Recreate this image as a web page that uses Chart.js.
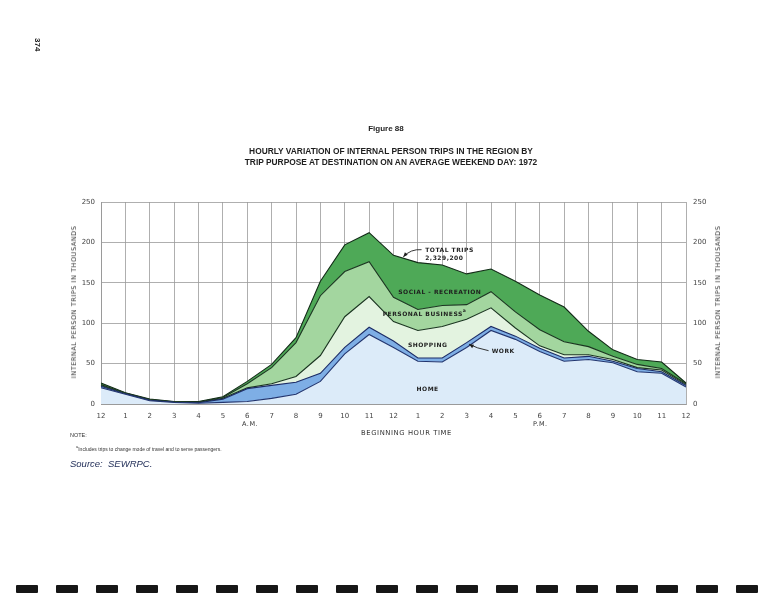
<!DOCTYPE html>
<html>
<head>
<meta charset="utf-8">
<script src="https://cdn.jsdelivr.net/npm/chart.js@4.4.1/dist/chart.umd.min.js"></script>
<style>
  body { margin: 0; width: 772px; height: 600px; background: #fff; position: relative; overflow: hidden; font-family: "Liberation Sans", Arial, sans-serif; }
  #chart { position: absolute; left: 0; top: 0; }
  .t { position: absolute; white-space: nowrap; color: #1e1e1e; }
  .fig { left: 0; width: 772px; top: 124px; text-align: center; font-size: 8px; font-weight: bold; }
  .title { left: 0; width: 782px; top: 146px; text-align: center; font-size: 8.4px; font-weight: bold; line-height: 11px; }
  .axis-y { font-family: "DejaVu Sans", sans-serif; font-size: 6.5px; letter-spacing: 0.55px; color: #333; transform-origin: center; transform: translate(-50%, -50%) rotate(-90deg); }
  .small { font-family: "DejaVu Sans", sans-serif; font-size: 6.5px; letter-spacing: 0.5px; color: #333; }
  .page { font-size: 8px; font-weight: bold; transform: rotate(90deg); transform-origin: left top; }
  .dash { position: absolute; top: 585px; width: 22px; height: 8px; background: #161616; border-radius: 1px; }
</style>
</head>
<body>
<canvas id="chart" width="772" height="600"></canvas>

<div class="t page" style="left:42px;top:38px;">374</div>
<div class="t fig">Figure 88</div>
<div class="t title">HOURLY VARIATION OF INTERNAL PERSON TRIPS IN THE REGION BY<br>TRIP PURPOSE AT DESTINATION ON AN AVERAGE WEEKEND DAY: 1972</div>

<div class="t axis-y" style="left:74px;top:302px;">INTERNAL PERSON TRIPS IN THOUSANDS</div>
<div class="t axis-y" style="left:718px;top:302px;">INTERNAL PERSON TRIPS IN THOUSANDS</div>

<div class="t small" style="left:242px;top:420px;">A.M.</div>
<div class="t small" style="left:533px;top:420px;">P.M.</div>
<div class="t small" style="left:361px;top:429px;font-size:6.8px;letter-spacing:0.6px;">BEGINNING HOUR TIME</div>
<div class="t" style="left:70px;top:432px;font-size:5.5px;color:#333;">NOTE:</div>
<div class="t" style="left:76px;top:444px;font-size:5px;color:#333;"><sup style="font-size:4px">a</sup>Includes trips to change mode of travel and to serve passengers.</div>
<div class="t" style="left:70px;top:458px;font-size:9.5px;font-style:italic;color:#1d2a55;">Source:&nbsp; SEWRPC.</div>

<script>
// hours 12 A.M. through 12 midnight, values in thousands of trips
const HOURS = ["12", "1", "2", "3", "4", "5", "6", "7", "8", "9", "10", "11",
               "12", "1", "2", "3", "4", "5", "6", "7", "8", "9", "10", "11", "12"];

const HOME     = [20, 12, 4, 2, 1, 2, 3, 7, 12, 28, 62, 86, 70, 53, 52, 70, 91, 80, 65, 53, 55, 51, 40, 38, 21];
const WORK     = [2, 0.5, 0.5, 0.2, 0.5, 4, 16, 16, 15, 10, 8, 9, 8, 4, 5, 6, 5, 4, 4, 4, 4, 2, 4, 2, 2];
const SHOPPING = [1, 0.5, 0.5, 0.2, 0.5, 1, 1, 2, 7, 22, 38, 38, 24, 34, 39, 29, 23, 10, 3, 4, 2, 2, 1, 2, 1];
const PERSONAL = [1, 0.5, 0.5, 0.3, 0.5, 1, 5, 20, 42, 74, 56, 43, 30, 26, 26, 18, 20, 20, 20, 16, 10, 4, 4, 2, 1];
const SOCIAL   = [2, 0.5, 0.5, 0.3, 0.5, 1, 3, 4, 6, 18, 33, 36, 52, 58, 50, 38, 28, 38, 43, 43, 19, 8, 6, 8, 1];

const Y_TICKS = [0, 50, 100, 150, 200, 250];

// text placed inside the plot, positioned in data units (hour, thousands)
const LABELS = [
  { text: "TOTAL TRIPS", x: 13.3, y: 190, align: "left" },
  { text: "2,329,200", x: 13.3, y: 180, align: "left" },
  { text: "SOCIAL - RECREATION", x: 13.9, y: 138, align: "center" },
  { text: "PERSONAL BUSINESS", x: 13.2, y: 111, align: "center", sup: "a" },
  { text: "SHOPPING", x: 13.4, y: 73, align: "center" },
  { text: "WORK", x: 16.5, y: 65, align: "center" },
  { text: "HOME", x: 13.4, y: 18, align: "center" },
];

const tickFont = { family: "DejaVu Sans", size: 7 };
const GRID = "#9a9a9a";
const LABEL_FONT = "bold 6px 'DejaVu Sans'";

const annotations = {
  id: "annotations",
  afterDatasetsDraw(chart) {
    const { ctx, scales } = chart;
    const x = scales.x, y = scales.y;
    ctx.save();
    ctx.fillStyle = "#1e1e1e";
    ctx.font = LABEL_FONT;
    ctx.letterSpacing = "0.5px";
    ctx.textBaseline = "middle";
    for (const l of LABELS) {
      const px = x.getPixelForValue(l.x);
      const py = y.getPixelForValue(l.y);
      ctx.textAlign = l.align;
      ctx.fillText(l.text, px, py);
      if (l.sup) {
        const w = ctx.measureText(l.text).width;
        ctx.font = "bold 4.5px 'DejaVu Sans'";
        ctx.textAlign = "left";
        ctx.fillText(l.sup, px + w / 2, py - 3);
        ctx.font = LABEL_FONT;
      }
    }
    // leader lines with arrowheads
    ctx.strokeStyle = "#1e1e1e";
    ctx.lineWidth = 0.9;
    const leader = (fx, fy, cx, cy, tx, ty) => {
      const a = [x.getPixelForValue(fx), y.getPixelForValue(fy)];
      const c = [x.getPixelForValue(cx), y.getPixelForValue(cy)];
      const b = [x.getPixelForValue(tx), y.getPixelForValue(ty)];
      ctx.beginPath();
      ctx.moveTo(a[0], a[1]);
      ctx.quadraticCurveTo(c[0], c[1], b[0], b[1]);
      ctx.stroke();
      const ang = Math.atan2(b[1] - c[1], b[0] - c[0]);
      ctx.beginPath();
      ctx.moveTo(b[0], b[1]);
      ctx.lineTo(b[0] - 5 * Math.cos(ang - 0.4), b[1] - 5 * Math.sin(ang - 0.4));
      ctx.lineTo(b[0] - 5 * Math.cos(ang + 0.4), b[1] - 5 * Math.sin(ang + 0.4));
      ctx.closePath();
      ctx.fill();
    };
    leader(13.15, 191, 12.7, 192, 12.4, 182);
    leader(15.9, 66, 15.4, 69, 15.1, 74);
    ctx.restore();
  },
};

function area(label, data, fill, bg, line) {
  return {
    label, data, fill,
    backgroundColor: bg,
    borderColor: line,
    borderWidth: 1.1,
    pointRadius: 0,
    tension: 0,
  };
}

new Chart(document.getElementById("chart"), {
  type: "line",
  data: {
    labels: HOURS,
    datasets: [
      area("Home", HOME, "origin", "#dcebf9", "#22356f"),
      area("Work", WORK, "-1", "#7eaee5", "#1c2c66"),
      area("Shopping", SHOPPING, "-1", "#e3f3e0", "#1a3520"),
      area("Personal Business", PERSONAL, "-1", "#a3d69f", "#1a3520"),
      area("Social-Recreation", SOCIAL, "-1", "#4ea957", "#122b17"),
    ],
  },
  options: {
    responsive: false,
    animation: false,
    layout: { padding: { left: 60, right: 42, top: 202, bottom: 160 } },
    plugins: { legend: { display: false }, tooltip: { enabled: false } },
    scales: {
      x: {
        grid: { color: GRID, lineWidth: 0.8, drawTicks: false },
        border: { color: GRID },
        ticks: { font: tickFont, color: "#444", padding: 8, maxRotation: 0, autoSkip: false },
        afterFit: (s) => { s.height = 36; },
      },
      y: {
        stacked: true,
        min: 0, max: 250,
        afterBuildTicks: (s) => { s.ticks = Y_TICKS.map((v) => ({ value: v })); },
        grid: { color: GRID, lineWidth: 0.8, drawTicks: false },
        border: { color: GRID },
        ticks: { font: tickFont, color: "#444", padding: 6 },
        afterFit: (s) => { s.width = 41; },
      },
      y2: {
        position: "right",
        min: 0, max: 250,
        afterBuildTicks: (s) => { s.ticks = Y_TICKS.map((v) => ({ value: v })); },
        grid: { display: false, drawTicks: false },
        border: { display: false },
        ticks: { font: tickFont, color: "#444", padding: 7 },
        afterFit: (s) => { s.width = 44; },
      },
    },
  },
  plugins: [annotations],
});

// film sprocket marks along the bottom edge of the scan
for (let i = 0; i < 19; i++) {
  const d = document.createElement("div");
  d.className = "dash";
  d.style.left = (16 + 40 * i) + "px";
  document.body.appendChild(d);
}
</script>
</body>
</html>
